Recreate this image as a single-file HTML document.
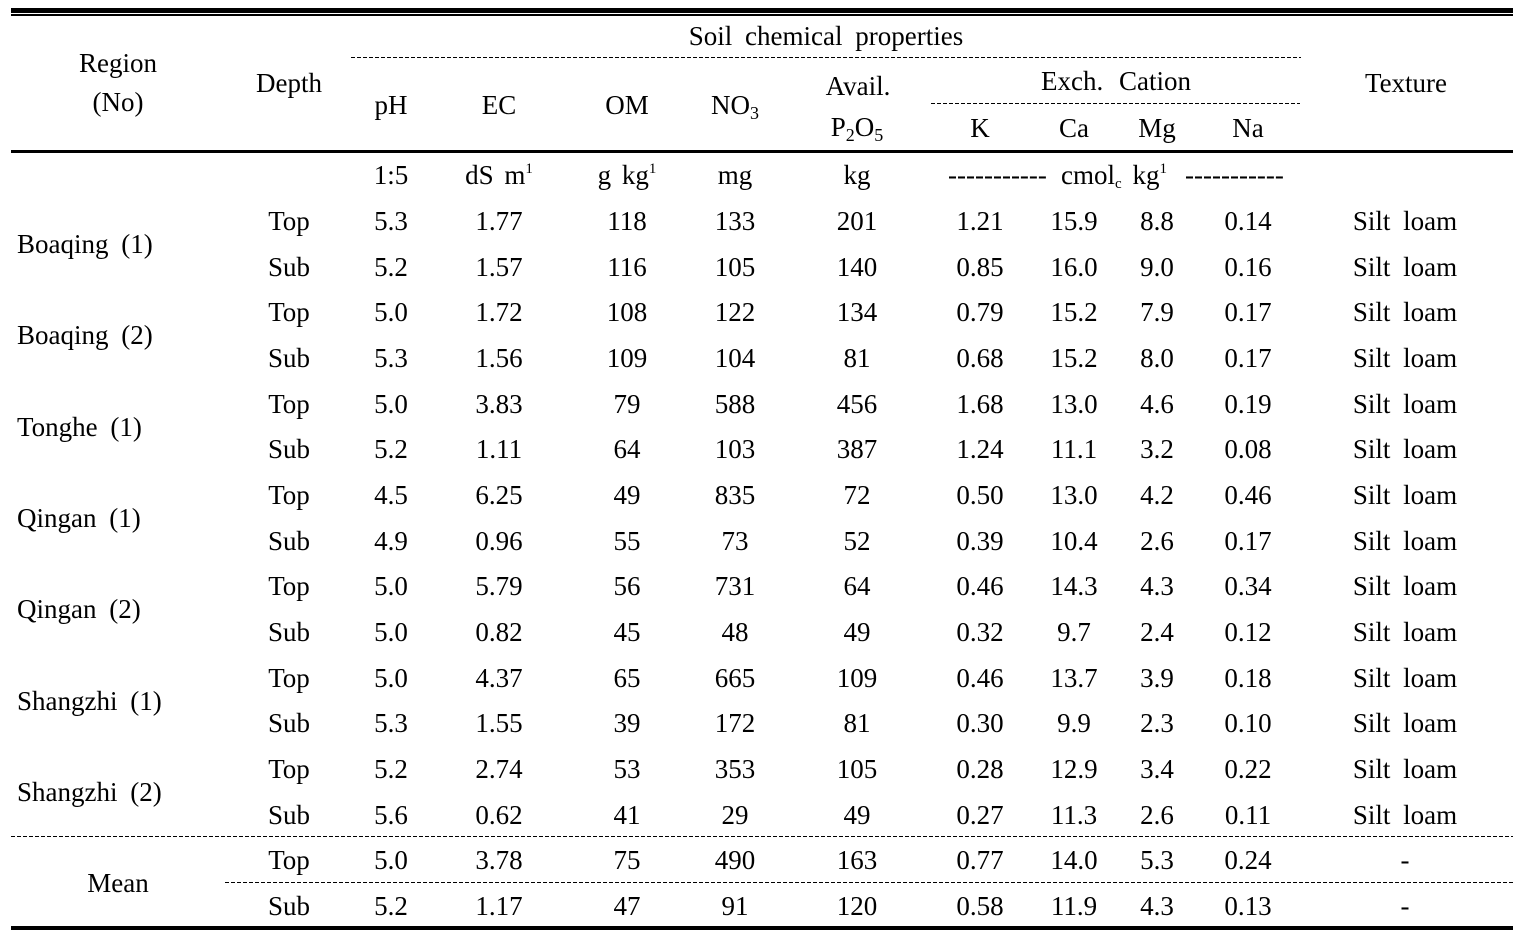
<!DOCTYPE html>
<html>
<head>
<meta charset="utf-8">
<style>
html,body{margin:0;padding:0;background:#fff;}
body{width:1520px;height:938px;position:relative;overflow:hidden;font-family:"Liberation Serif","Times New Roman",serif;color:#000;}
.t{position:absolute;transform:translate(-50%,-50%);white-space:pre;font-size:27px;line-height:28px;word-spacing:6px;}
.l{position:absolute;transform:translateY(-50%);white-space:pre;font-size:27px;line-height:28px;word-spacing:6px;}
.r{position:absolute;background:#000;}
.d{position:absolute;height:1px;background:repeating-linear-gradient(to right,#000 0 4px,transparent 4px 6px);}
.sb{font-size:18px;vertical-align:-5px;line-height:0;}
.sp{font-size:15px;vertical-align:11px;line-height:0;}
</style>
</head>
<body>
<!-- rules -->
<div class="r" style="left:11px;top:8px;width:1502px;height:5px;"></div>
<div class="r" style="left:11px;top:14px;width:1502px;height:2px;"></div>
<div class="r" style="left:11px;top:150px;width:1502px;height:3px;"></div>
<div class="r" style="left:11px;top:926px;width:1502px;height:4px;"></div>
<div class="d" style="left:351px;top:57px;width:950px;"></div>
<div class="d" style="left:931px;top:103px;width:369px;"></div>
<div class="d" style="left:11px;top:836px;width:1502px;"></div>
<div class="d" style="left:225px;top:882px;width:1288px;"></div>

<!-- header -->
<div class="t" style="left:118px;top:63px;">Region</div>
<div class="t" style="left:118px;top:102px;">(No)</div>
<div class="t" style="left:289px;top:83px;">Depth</div>
<div class="t" style="left:826px;top:36px;">Soil chemical properties</div>
<div class="t" style="left:391px;top:105px;">pH</div>
<div class="t" style="left:499px;top:105px;">EC</div>
<div class="t" style="left:627px;top:105px;">OM</div>
<div class="t" style="left:735px;top:105px;">NO<span class="sb">3</span></div>
<div class="t" style="left:858px;top:86px;">Avail.</div>
<div class="t" style="left:857px;top:127px;">P<span class="sb">2</span>O<span class="sb">5</span></div>
<div class="t" style="left:1116px;top:81px;word-spacing:9px;">Exch. Cation</div>
<div class="t" style="left:980px;top:128px;">K</div>
<div class="t" style="left:1074px;top:128px;">Ca</div>
<div class="t" style="left:1157px;top:128px;">Mg</div>
<div class="t" style="left:1248px;top:128px;">Na</div>
<div class="t" style="left:1406px;top:83px;">Texture</div>

<!-- units -->
<div class="t" style="left:391px;top:175px;">1:5</div>
<div class="t" style="left:499px;top:175px;word-spacing:4px;">dS m<span class="sp">1</span></div>
<div class="t" style="left:627px;top:175px;word-spacing:4px;">g kg<span class="sp">1</span></div>
<div class="t" style="left:735px;top:175px;">mg</div>
<div class="t" style="left:857px;top:175px;">kg</div>
<div class="l" style="left:948px;top:175px;letter-spacing:0px;">-----------</div>
<div class="t" style="left:1114px;top:175px;word-spacing:4px;">cmol<span class="sb" style="font-size:15px;vertical-align:-4px;">c</span> kg<span class="sp">1</span></div>
<div class="l" style="left:1185px;top:175px;letter-spacing:0px;">-----------</div>

<!-- region labels -->
<div class="l" style="left:17px;top:244px;">Boaqing (1)</div>
<div class="l" style="left:17px;top:335px;">Boaqing (2)</div>
<div class="l" style="left:17px;top:427px;">Tonghe (1)</div>
<div class="l" style="left:17px;top:518px;">Qingan (1)</div>
<div class="l" style="left:17px;top:609px;">Qingan (2)</div>
<div class="l" style="left:17px;top:701px;">Shangzhi (1)</div>
<div class="l" style="left:17px;top:792px;">Shangzhi (2)</div>
<div class="t" style="left:118px;top:883px;">Mean</div>

<!-- data rows -->
<div class="t" style="left:289px;top:221px;">Top</div><div class="t" style="left:391px;top:221px;">5.3</div><div class="t" style="left:499px;top:221px;">1.77</div><div class="t" style="left:627px;top:221px;">118</div><div class="t" style="left:735px;top:221px;">133</div><div class="t" style="left:857px;top:221px;">201</div><div class="t" style="left:980px;top:221px;">1.21</div><div class="t" style="left:1074px;top:221px;">15.9</div><div class="t" style="left:1157px;top:221px;">8.8</div><div class="t" style="left:1248px;top:221px;">0.14</div><div class="t" style="left:1405px;top:221px;">Silt loam</div>

<div class="t" style="left:289px;top:266.6px;">Sub</div><div class="t" style="left:391px;top:266.6px;">5.2</div><div class="t" style="left:499px;top:266.6px;">1.57</div><div class="t" style="left:627px;top:266.6px;">116</div><div class="t" style="left:735px;top:266.6px;">105</div><div class="t" style="left:857px;top:266.6px;">140</div><div class="t" style="left:980px;top:266.6px;">0.85</div><div class="t" style="left:1074px;top:266.6px;">16.0</div><div class="t" style="left:1157px;top:266.6px;">9.0</div><div class="t" style="left:1248px;top:266.6px;">0.16</div><div class="t" style="left:1405px;top:266.6px;">Silt loam</div>

<div class="t" style="left:289px;top:312.3px;">Top</div><div class="t" style="left:391px;top:312.3px;">5.0</div><div class="t" style="left:499px;top:312.3px;">1.72</div><div class="t" style="left:627px;top:312.3px;">108</div><div class="t" style="left:735px;top:312.3px;">122</div><div class="t" style="left:857px;top:312.3px;">134</div><div class="t" style="left:980px;top:312.3px;">0.79</div><div class="t" style="left:1074px;top:312.3px;">15.2</div><div class="t" style="left:1157px;top:312.3px;">7.9</div><div class="t" style="left:1248px;top:312.3px;">0.17</div><div class="t" style="left:1405px;top:312.3px;">Silt loam</div>

<div class="t" style="left:289px;top:358px;">Sub</div><div class="t" style="left:391px;top:358px;">5.3</div><div class="t" style="left:499px;top:358px;">1.56</div><div class="t" style="left:627px;top:358px;">109</div><div class="t" style="left:735px;top:358px;">104</div><div class="t" style="left:857px;top:358px;">81</div><div class="t" style="left:980px;top:358px;">0.68</div><div class="t" style="left:1074px;top:358px;">15.2</div><div class="t" style="left:1157px;top:358px;">8.0</div><div class="t" style="left:1248px;top:358px;">0.17</div><div class="t" style="left:1405px;top:358px;">Silt loam</div>

<div class="t" style="left:289px;top:403.6px;">Top</div><div class="t" style="left:391px;top:403.6px;">5.0</div><div class="t" style="left:499px;top:403.6px;">3.83</div><div class="t" style="left:627px;top:403.6px;">79</div><div class="t" style="left:735px;top:403.6px;">588</div><div class="t" style="left:857px;top:403.6px;">456</div><div class="t" style="left:980px;top:403.6px;">1.68</div><div class="t" style="left:1074px;top:403.6px;">13.0</div><div class="t" style="left:1157px;top:403.6px;">4.6</div><div class="t" style="left:1248px;top:403.6px;">0.19</div><div class="t" style="left:1405px;top:403.6px;">Silt loam</div>

<div class="t" style="left:289px;top:449.3px;">Sub</div><div class="t" style="left:391px;top:449.3px;">5.2</div><div class="t" style="left:499px;top:449.3px;">1.11</div><div class="t" style="left:627px;top:449.3px;">64</div><div class="t" style="left:735px;top:449.3px;">103</div><div class="t" style="left:857px;top:449.3px;">387</div><div class="t" style="left:980px;top:449.3px;">1.24</div><div class="t" style="left:1074px;top:449.3px;">11.1</div><div class="t" style="left:1157px;top:449.3px;">3.2</div><div class="t" style="left:1248px;top:449.3px;">0.08</div><div class="t" style="left:1405px;top:449.3px;">Silt loam</div>

<div class="t" style="left:289px;top:495px;">Top</div><div class="t" style="left:391px;top:495px;">4.5</div><div class="t" style="left:499px;top:495px;">6.25</div><div class="t" style="left:627px;top:495px;">49</div><div class="t" style="left:735px;top:495px;">835</div><div class="t" style="left:857px;top:495px;">72</div><div class="t" style="left:980px;top:495px;">0.50</div><div class="t" style="left:1074px;top:495px;">13.0</div><div class="t" style="left:1157px;top:495px;">4.2</div><div class="t" style="left:1248px;top:495px;">0.46</div><div class="t" style="left:1405px;top:495px;">Silt loam</div>

<div class="t" style="left:289px;top:540.6px;">Sub</div><div class="t" style="left:391px;top:540.6px;">4.9</div><div class="t" style="left:499px;top:540.6px;">0.96</div><div class="t" style="left:627px;top:540.6px;">55</div><div class="t" style="left:735px;top:540.6px;">73</div><div class="t" style="left:857px;top:540.6px;">52</div><div class="t" style="left:980px;top:540.6px;">0.39</div><div class="t" style="left:1074px;top:540.6px;">10.4</div><div class="t" style="left:1157px;top:540.6px;">2.6</div><div class="t" style="left:1248px;top:540.6px;">0.17</div><div class="t" style="left:1405px;top:540.6px;">Silt loam</div>

<div class="t" style="left:289px;top:586.3px;">Top</div><div class="t" style="left:391px;top:586.3px;">5.0</div><div class="t" style="left:499px;top:586.3px;">5.79</div><div class="t" style="left:627px;top:586.3px;">56</div><div class="t" style="left:735px;top:586.3px;">731</div><div class="t" style="left:857px;top:586.3px;">64</div><div class="t" style="left:980px;top:586.3px;">0.46</div><div class="t" style="left:1074px;top:586.3px;">14.3</div><div class="t" style="left:1157px;top:586.3px;">4.3</div><div class="t" style="left:1248px;top:586.3px;">0.34</div><div class="t" style="left:1405px;top:586.3px;">Silt loam</div>

<div class="t" style="left:289px;top:632px;">Sub</div><div class="t" style="left:391px;top:632px;">5.0</div><div class="t" style="left:499px;top:632px;">0.82</div><div class="t" style="left:627px;top:632px;">45</div><div class="t" style="left:735px;top:632px;">48</div><div class="t" style="left:857px;top:632px;">49</div><div class="t" style="left:980px;top:632px;">0.32</div><div class="t" style="left:1074px;top:632px;">9.7</div><div class="t" style="left:1157px;top:632px;">2.4</div><div class="t" style="left:1248px;top:632px;">0.12</div><div class="t" style="left:1405px;top:632px;">Silt loam</div>

<div class="t" style="left:289px;top:677.6px;">Top</div><div class="t" style="left:391px;top:677.6px;">5.0</div><div class="t" style="left:499px;top:677.6px;">4.37</div><div class="t" style="left:627px;top:677.6px;">65</div><div class="t" style="left:735px;top:677.6px;">665</div><div class="t" style="left:857px;top:677.6px;">109</div><div class="t" style="left:980px;top:677.6px;">0.46</div><div class="t" style="left:1074px;top:677.6px;">13.7</div><div class="t" style="left:1157px;top:677.6px;">3.9</div><div class="t" style="left:1248px;top:677.6px;">0.18</div><div class="t" style="left:1405px;top:677.6px;">Silt loam</div>

<div class="t" style="left:289px;top:723.3px;">Sub</div><div class="t" style="left:391px;top:723.3px;">5.3</div><div class="t" style="left:499px;top:723.3px;">1.55</div><div class="t" style="left:627px;top:723.3px;">39</div><div class="t" style="left:735px;top:723.3px;">172</div><div class="t" style="left:857px;top:723.3px;">81</div><div class="t" style="left:980px;top:723.3px;">0.30</div><div class="t" style="left:1074px;top:723.3px;">9.9</div><div class="t" style="left:1157px;top:723.3px;">2.3</div><div class="t" style="left:1248px;top:723.3px;">0.10</div><div class="t" style="left:1405px;top:723.3px;">Silt loam</div>

<div class="t" style="left:289px;top:769px;">Top</div><div class="t" style="left:391px;top:769px;">5.2</div><div class="t" style="left:499px;top:769px;">2.74</div><div class="t" style="left:627px;top:769px;">53</div><div class="t" style="left:735px;top:769px;">353</div><div class="t" style="left:857px;top:769px;">105</div><div class="t" style="left:980px;top:769px;">0.28</div><div class="t" style="left:1074px;top:769px;">12.9</div><div class="t" style="left:1157px;top:769px;">3.4</div><div class="t" style="left:1248px;top:769px;">0.22</div><div class="t" style="left:1405px;top:769px;">Silt loam</div>

<div class="t" style="left:289px;top:814.6px;">Sub</div><div class="t" style="left:391px;top:814.6px;">5.6</div><div class="t" style="left:499px;top:814.6px;">0.62</div><div class="t" style="left:627px;top:814.6px;">41</div><div class="t" style="left:735px;top:814.6px;">29</div><div class="t" style="left:857px;top:814.6px;">49</div><div class="t" style="left:980px;top:814.6px;">0.27</div><div class="t" style="left:1074px;top:814.6px;">11.3</div><div class="t" style="left:1157px;top:814.6px;">2.6</div><div class="t" style="left:1248px;top:814.6px;">0.11</div><div class="t" style="left:1405px;top:814.6px;">Silt loam</div>

<!-- mean -->
<div class="t" style="left:289px;top:860.3px;">Top</div><div class="t" style="left:391px;top:860.3px;">5.0</div><div class="t" style="left:499px;top:860.3px;">3.78</div><div class="t" style="left:627px;top:860.3px;">75</div><div class="t" style="left:735px;top:860.3px;">490</div><div class="t" style="left:857px;top:860.3px;">163</div><div class="t" style="left:980px;top:860.3px;">0.77</div><div class="t" style="left:1074px;top:860.3px;">14.0</div><div class="t" style="left:1157px;top:860.3px;">5.3</div><div class="t" style="left:1248px;top:860.3px;">0.24</div><div class="t" style="left:1405px;top:860.3px;">-</div>

<div class="t" style="left:289px;top:906px;">Sub</div><div class="t" style="left:391px;top:906px;">5.2</div><div class="t" style="left:499px;top:906px;">1.17</div><div class="t" style="left:627px;top:906px;">47</div><div class="t" style="left:735px;top:906px;">91</div><div class="t" style="left:857px;top:906px;">120</div><div class="t" style="left:980px;top:906px;">0.58</div><div class="t" style="left:1074px;top:906px;">11.9</div><div class="t" style="left:1157px;top:906px;">4.3</div><div class="t" style="left:1248px;top:906px;">0.13</div><div class="t" style="left:1405px;top:906px;">-</div>
</body>
</html>
